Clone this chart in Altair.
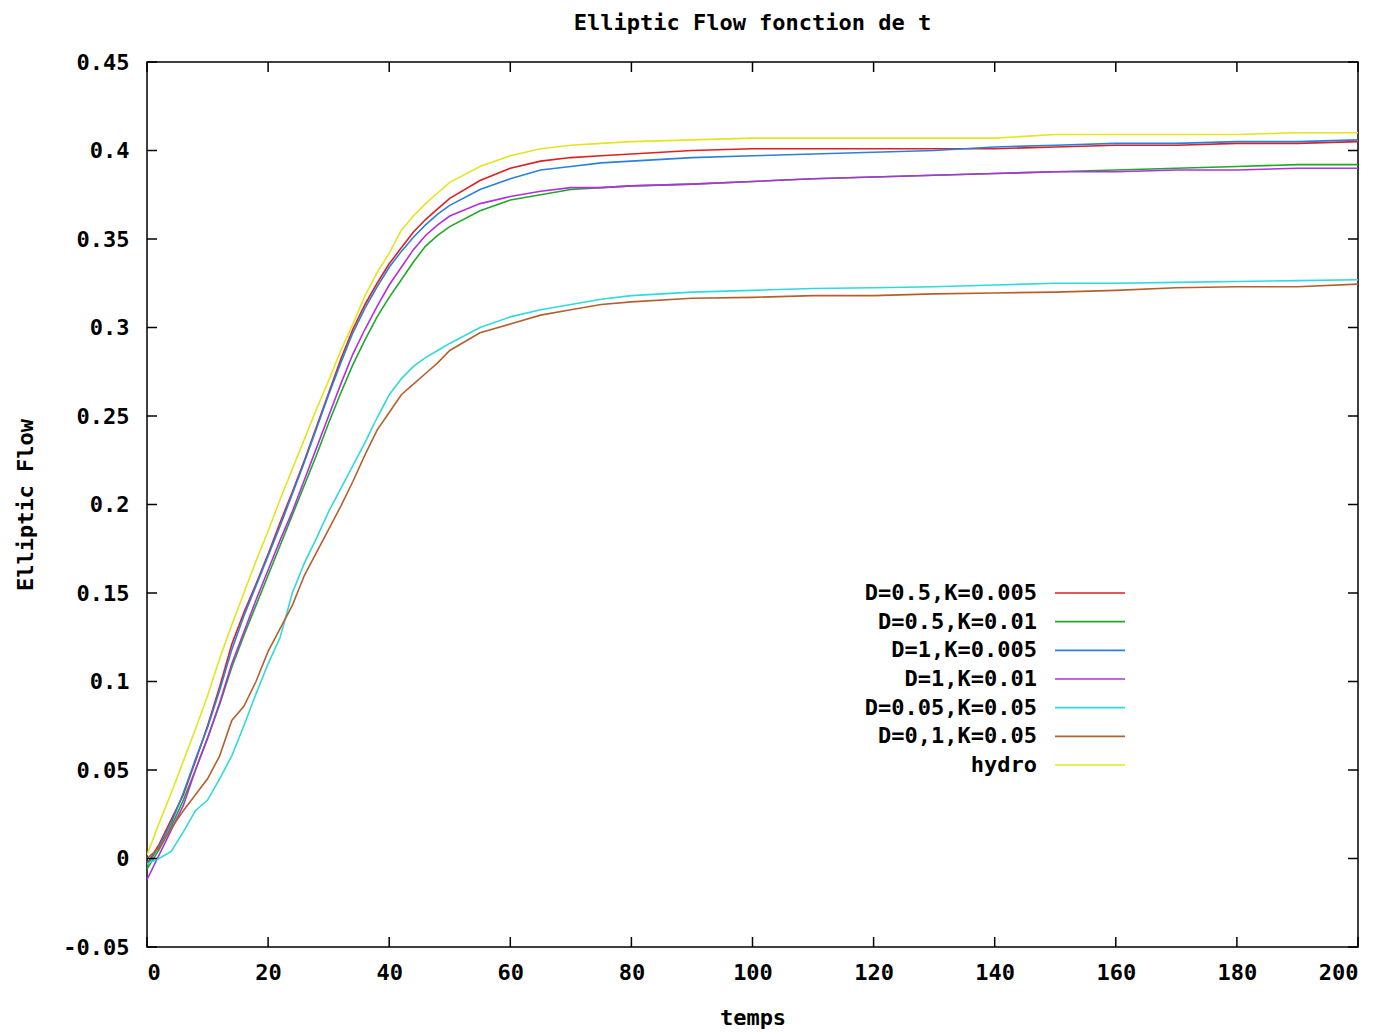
import altair as alt
import pandas as pd

# ---------------- data ----------------
t = [0, 2, 4, 6, 8, 10, 12, 14, 16, 18, 20, 22, 24, 26, 28, 30, 32, 34, 36, 38, 40,
     42, 44, 46, 48, 50, 55, 60, 65, 70, 75, 80, 90, 100, 110, 120, 130, 140, 150,
     160, 170, 180, 190, 200]

series_names = ["D=0.5,K=0.005", "D=0.5,K=0.01", "D=1,K=0.005", "D=1,K=0.01",
                "D=0.05,K=0.05", "D=0,1,K=0.05", "hydro"]
series_colors = ["#e02020", "#20a828", "#2a80dc", "#b030e0", "#30dada", "#b5602c", "#e4e420"]

red = [-0.003, 0.008, 0.022, 0.036, 0.055, 0.075, 0.097, 0.121, 0.139, 0.155, 0.172,
       0.190, 0.207, 0.225, 0.244, 0.263, 0.282, 0.299, 0.313, 0.325, 0.336, 0.345,
       0.354, 0.361, 0.367, 0.373, 0.383, 0.390, 0.394, 0.396, 0.397, 0.398, 0.400,
       0.401, 0.401, 0.401, 0.401, 0.401, 0.402, 0.403, 0.403, 0.404, 0.404, 0.405]
green = [-0.006, 0.005, 0.018, 0.033, 0.050, 0.068, 0.087, 0.108, 0.126, 0.143, 0.160,
         0.177, 0.194, 0.211, 0.228, 0.246, 0.263, 0.279, 0.293, 0.306, 0.317, 0.327,
         0.337, 0.346, 0.352, 0.357, 0.366, 0.372, 0.375, 0.378, 0.379, 0.380, 0.381,
         0.3825, 0.384, 0.385, 0.386, 0.387, 0.388, 0.389, 0.390, 0.391, 0.392, 0.392]
blue = [-0.004, 0.007, 0.020, 0.037, 0.056, 0.074, 0.095, 0.118, 0.137, 0.154, 0.171,
        0.188, 0.206, 0.224, 0.243, 0.262, 0.280, 0.297, 0.311, 0.323, 0.334, 0.343,
        0.351, 0.358, 0.364, 0.369, 0.378, 0.384, 0.389, 0.391, 0.393, 0.394, 0.396,
        0.397, 0.398, 0.399, 0.400, 0.402, 0.403, 0.404, 0.404, 0.405, 0.405, 0.406]
purple = [-0.012, 0.002, 0.016, 0.030, 0.050, 0.068, 0.088, 0.110, 0.128, 0.146, 0.163,
          0.180, 0.196, 0.214, 0.232, 0.250, 0.268, 0.285, 0.299, 0.312, 0.324, 0.334,
          0.344, 0.352, 0.358, 0.363, 0.370, 0.374, 0.377, 0.379, 0.379, 0.380, 0.381,
          0.3825, 0.384, 0.385, 0.386, 0.387, 0.388, 0.388, 0.389, 0.389, 0.390, 0.390]
cyan = [-0.003, 0.000, 0.004, 0.015, 0.027, 0.033, 0.045, 0.058, 0.075, 0.093, 0.110,
        0.125, 0.150, 0.167, 0.181, 0.196, 0.209, 0.222, 0.235, 0.249, 0.262, 0.271,
        0.278, 0.283, 0.287, 0.291, 0.300, 0.306, 0.310, 0.313, 0.316, 0.318, 0.320,
        0.321, 0.322, 0.3225, 0.323, 0.324, 0.325, 0.325, 0.3255, 0.326, 0.3265, 0.327]
brown = [0.000, 0.006, 0.017, 0.027, 0.036, 0.045, 0.058, 0.078, 0.086, 0.100, 0.117,
         0.130, 0.143, 0.160, 0.173, 0.186, 0.199, 0.213, 0.228, 0.242, 0.252, 0.262,
         0.268, 0.274, 0.280, 0.287, 0.297, 0.302, 0.307, 0.310, 0.313, 0.3145, 0.3165,
         0.317, 0.318, 0.318, 0.319, 0.3195, 0.320, 0.321, 0.3225, 0.323, 0.323, 0.3245]
hydro = [0.002, 0.020, 0.037, 0.055, 0.073, 0.092, 0.113, 0.132, 0.150, 0.168, 0.185,
         0.203, 0.220, 0.237, 0.254, 0.270, 0.287, 0.302, 0.318, 0.331, 0.342, 0.355,
         0.363, 0.370, 0.376, 0.382, 0.391, 0.397, 0.401, 0.403, 0.404, 0.405, 0.406,
         0.407, 0.407, 0.407, 0.407, 0.407, 0.409, 0.409, 0.409, 0.409, 0.410, 0.410]

x_ticks = [0, 20, 40, 60, 80, 100, 120, 140, 160, 180, 200]
y_ticks = [-0.05, 0, 0.05, 0.1, 0.15, 0.2, 0.25, 0.3, 0.35, 0.4, 0.45]

# ---------------- build tables ----------------
all_series = [red, green, blue, purple, cyan, brown, hydro]
rows = []
for name, vals in zip(series_names, all_series):
    for tt, vv in zip(t, vals):
        rows.append({"series": name, "t": tt, "v": vv})
df = pd.DataFrame(rows)
df_xt = pd.DataFrame({"t": x_ticks})
df_yt = pd.DataFrame({"v": y_ticks})
df_leg = pd.DataFrame({"series": series_names})

W, H = 1211, 885
FONT = "DejaVu Sans Mono"
FS = 22

xscale = alt.Scale(domain=[0, 200], nice=False, zero=False)
yscale = alt.Scale(domain=[-0.05, 0.45], nice=False, zero=False)
cscale = alt.Scale(domain=series_names, range=series_colors)

lines = alt.Chart(df).mark_line(strokeWidth=1.6, clip=True).encode(
    x=alt.X("t:Q", scale=xscale, title="temps",
            axis=alt.Axis(values=x_ticks, format="d", titleX=W / 2, titleY=70,
                          titleBaseline="middle")),
    y=alt.Y("v:Q", scale=yscale, title="Elliptic Flow",
            axis=alt.Axis(values=y_ticks,
                          labelExpr="datum.value < 0 ? '-' + format(-datum.value, '.2~f') : format(datum.value, '.2~f')",
                          titleX=-122, titleY=H / 2, titleBaseline="middle",
                          titleAlign="center")),
    color=alt.Color("series:N", scale=cscale, legend=None),
    detail="series:N",
)

tick_len = 10
xt_bottom = alt.Chart(df_xt).mark_rule(color="black", strokeWidth=1.5).encode(
    x=alt.X("t:Q", scale=xscale), y=alt.value(H), y2=alt.value(H - tick_len))
xt_top = alt.Chart(df_xt).mark_rule(color="black", strokeWidth=1.5).encode(
    x=alt.X("t:Q", scale=xscale), y=alt.value(0), y2=alt.value(tick_len))
yt_left = alt.Chart(df_yt).mark_rule(color="black", strokeWidth=1.5).encode(
    y=alt.Y("v:Q", scale=yscale), x=alt.value(0), x2=alt.value(tick_len))
yt_right = alt.Chart(df_yt).mark_rule(color="black", strokeWidth=1.5).encode(
    y=alt.Y("v:Q", scale=yscale), x=alt.value(W), x2=alt.value(W - tick_len))

main = alt.layer(lines, xt_bottom, xt_top, yt_left, yt_right)

leg_y = alt.Y("series:N", scale=alt.Scale(type="point", domain=series_names,
                                          range=[531, 703], padding=0), axis=None)
leg_rules = alt.Chart(df_leg).mark_rule(strokeWidth=1.6).encode(
    y=leg_y, x=alt.value(908), x2=alt.value(978),
    color=alt.Color("series:N", scale=cscale, legend=None))
leg_text = alt.Chart(df_leg).mark_text(align="right", baseline="middle", font=FONT,
                                       fontSize=FS, fontWeight="bold", color="black").encode(
    y=leg_y, x=alt.value(890), text="series:N")
legend = alt.layer(leg_rules, leg_text)

chart = alt.layer(main, legend).resolve_scale(y="independent").properties(
    width=W, height=H,
    padding={"left": 139, "top": 54, "right": 25, "bottom": 86},
    autosize=alt.AutoSizeParams(type="none"),
    title=alt.TitleParams("Elliptic Flow fonction de t", font=FONT, fontSize=FS,
                          fontWeight="bold", anchor="middle", offset=16, color="black"),
).configure_view(stroke="black", strokeWidth=1.5).configure_axis(
    domain=False, ticks=False, grid=False,
    labelFont=FONT, labelFontSize=FS, labelFontWeight="bold", labelColor="black",
    titleFont=FONT, titleFontSize=FS, titleFontWeight="bold", titleColor="black",
).configure_axisX(labelPadding=15).configure_axisY(labelPadding=18)

chart.save("out.html", embed_options={"renderer": "svg", "actions": False})
